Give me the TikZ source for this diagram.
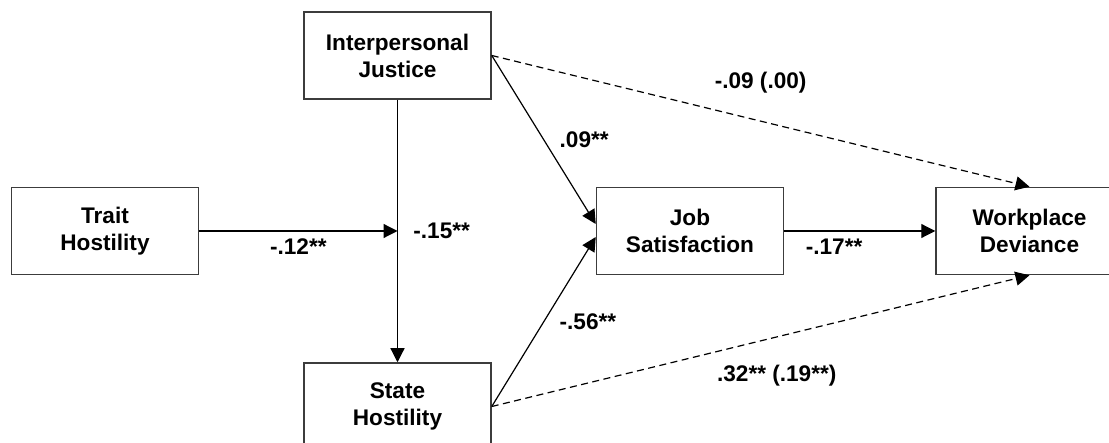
\documentclass[tikz,border=0pt]{standalone}
\usepackage{fontspec}
\setmainfont{Liberation Sans}
\usetikzlibrary{arrows.meta, positioning}
\definecolor{boxGray}{RGB}{60, 60, 60}

\begin{document}
\begin{tikzpicture}[
  x=1pt, y=-1pt,
  var/.style={
    rectangle, minimum width=187pt, minimum height=87pt,
    draw=boxGray, line width=1.5pt, fill=white,
    align=center, font=\fontsize{22.6}{27}\selectfont\bfseries
  },
  coef/.style={font=\fontsize{22.6}{27}\selectfont\bfseries},
  link/.style={->, line width=1.2pt},
  dashlink/.style={link, dash pattern=on 7pt off 4.5pt},
  >={Triangle[length=14pt, width=14pt]}
]
\useasboundingbox (0,0) rectangle (1109,443);

\node[var] (trait) at (105,231) {Trait\\Hostility};
\node[var, above right=87pt and 104pt of trait] (justice) {Interpersonal\\Justice};
\node[var, below right=87pt and 104pt of trait] (state)   {State\\Hostility};
\node[var, below right=87pt and 104pt of justice] (jobsat) {Job\\Satisfaction};
\node[var, right=151pt of jobsat] (deviance) {Workplace\\Deviance};
\coordinate (meet) at (trait.east -| justice.south);

\draw[link] (justice) -- node[coef, right=12pt] {-.15**} (state);
\draw[link] (trait) -- node[coef, below=4pt] {-.12**} (meet);
\draw[link] (justice.east) -- node[coef, right=12pt] {.09**} ([yshift=7pt]jobsat.west);
\draw[link] (state.east) -- node[coef, right=12pt] {-.56**} ([yshift=-6pt]jobsat.west);
\draw[link] (jobsat) -- node[coef, below=4pt, pos=.33] {-.17**} (deviance);
\draw[dashlink] (justice.east) -- node[coef, above=24pt] {-.09 (.00)} (deviance.north);
\draw[dashlink] (state.east) -- node[coef, below=24pt, pos=.53] {.32** (.19**)} (deviance.south);
\end{tikzpicture}
\end{document}
